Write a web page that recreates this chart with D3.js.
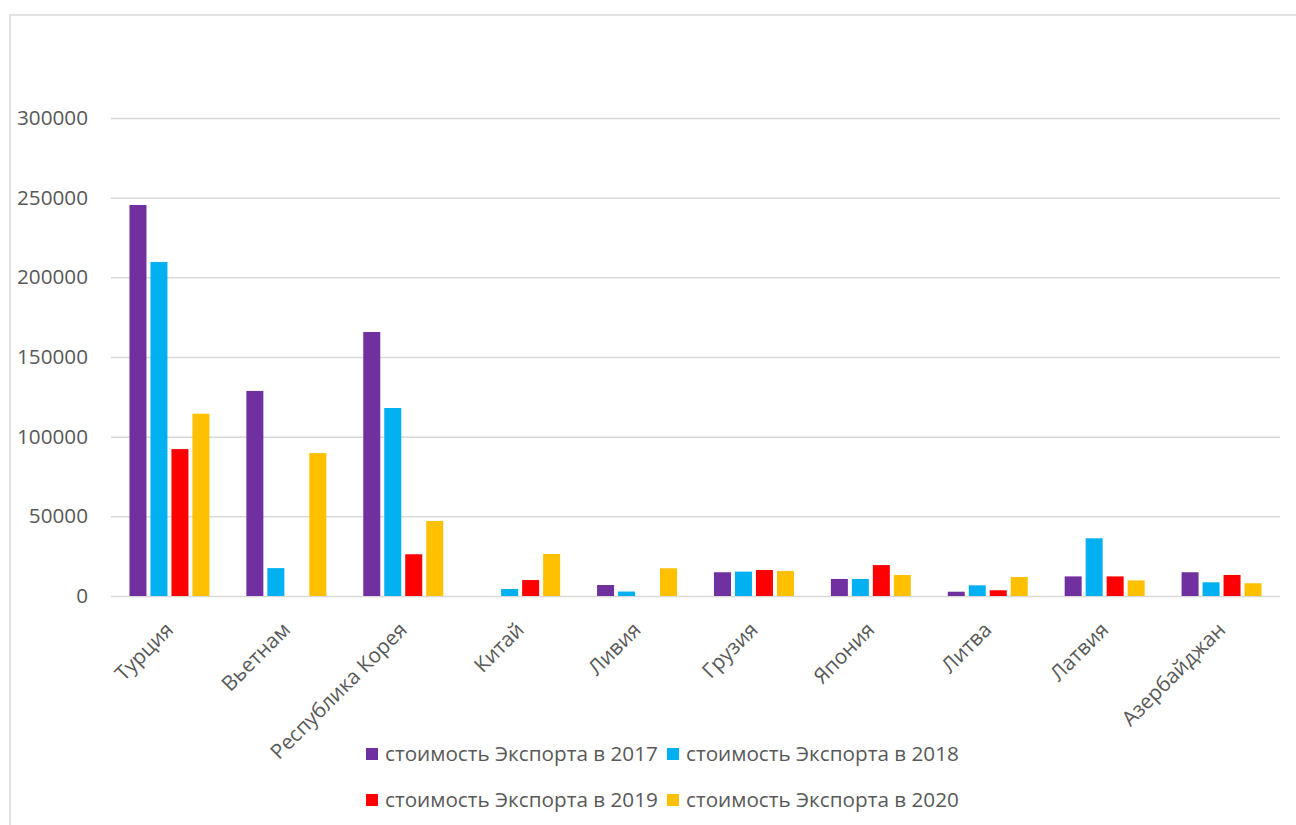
<!DOCTYPE html>
<html>
<head>
<meta charset="utf-8">
<script src="https://cdn.jsdelivr.net/npm/d3@7"></script>
<style>
  body { margin: 0; background: #fff; }
  text { font-family: "Open Sans", sans-serif; fill: #595959; }
</style>
</head>
<body>
<script>
const countries = ["Турция", "Вьетнам", "Республика Корея", "Китай", "Ливия", "Грузия", "Япония", "Литва", "Латвия", "Азербайджан"];
const series = ["стоимость Экспорта в 2017", "стоимость Экспорта в 2018", "стоимость Экспорта в 2019", "стоимость Экспорта в 2020"];
const v2017 = [245400, 128700, 165700, 0, 6900, 14900, 10700, 2700, 12300, 14900];
const v2018 = [209600, 17500, 118000, 4400, 2800, 15300, 10700, 6700, 36200, 8600];
const v2019 = [92200, 0, 26200, 10000, 0, 16300, 19400, 3600, 12300, 13200];
const v2020 = [114400, 89700, 47100, 26400, 17400, 15700, 13200, 11900, 9800, 8000];
const yTicks = [0, 50000, 100000, 150000, 200000, 250000, 300000];
const colors = ["#7030a0", "#00b0f0", "#ff0000", "#ffc000"];

const values = [v2017, v2018, v2019, v2020];
const width = 1296, height = 825;
const margin = { top: 118, right: 16, bottom: 229, left: 111 };
const fontSize = 20.7;

const svg = d3.select("body").append("svg")
  .attr("width", width)
  .attr("height", height);

// chart border
svg.append("rect")
  .attr("x", 10).attr("y", 15)
  .attr("width", width).attr("height", height)
  .attr("fill", "none")
  .attr("stroke", "#d9d9d9")
  .attr("stroke-width", 1.5);

const x0 = d3.scaleBand()
  .domain(countries)
  .range([margin.left, width - margin.right]);

const x1 = d3.scaleBand()
  .domain(series)
  .range([0, x0.bandwidth()])
  .paddingInner(0.19)
  .paddingOuter(0.88);

const y = d3.scaleLinear()
  .domain([0, 300000])
  .range([height - margin.bottom, margin.top]);

// grid + y labels
const yAxis = svg.append("g")
  .attr("transform", `translate(${margin.left},0)`)
  .call(d3.axisLeft(y).tickValues(yTicks).tickSize(-(width - margin.left - margin.right)).tickPadding(23).tickFormat(d3.format("d")))
  .call(g => g.select(".domain").remove());
yAxis.selectAll(".tick line").attr("stroke", "#d9d9d9").attr("stroke-width", 1.5);
yAxis.selectAll(".tick text").attr("font-size", fontSize).attr("fill", "#595959").attr("font-family", "Open Sans");

// bars
const groups = svg.append("g").selectAll("g")
  .data(countries)
  .join("g")
  .attr("transform", d => `translate(${x0(d)},0)`);

groups.selectAll("rect")
  .data((d, i) => series.map((s, j) => ({ s, v: values[j][i], c: colors[j] })))
  .join("rect")
  .filter(d => d.v > 0)
  .attr("x", d => x1(d.s))
  .attr("width", x1.bandwidth())
  .attr("y", d => y(d.v))
  .attr("height", d => y(0) - y(d.v))
  .attr("fill", d => d.c);

// x labels
svg.append("g").selectAll("text")
  .data(countries)
  .join("text")
  .attr("transform", d => `translate(${x0(d) + x0.bandwidth() / 2},626) rotate(-45)`)
  .attr("text-anchor", "end")
  .attr("dy", "0.35em")
  .attr("font-size", fontSize)
  .text(d => d);

// legend
const legX = [366, 667], legY = [754, 800];
const leg = svg.append("g").selectAll("g")
  .data(series)
  .join("g")
  .attr("transform", (d, i) => `translate(${legX[i % 2]},${legY[Math.floor(i / 2)]})`);
leg.append("rect")
  .attr("x", 0).attr("y", -6)
  .attr("width", 12).attr("height", 12)
  .attr("fill", (d, i) => colors[i]);
leg.append("text")
  .attr("x", 19)
  .attr("dy", "0.35em")
  .attr("font-size", fontSize)
  .text(d => d);
</script>
</body>
</html>
